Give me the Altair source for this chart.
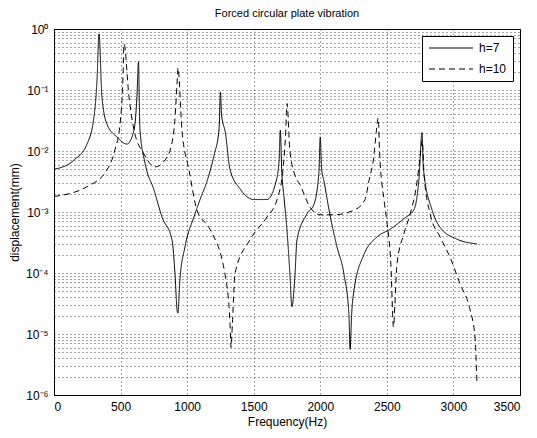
import altair as alt
import pandas as pd

# h=7 (solid) — frequency (Hz), displacement (mm)
f_h7 = [0, 150, 248, 300, 323, 338, 360, 398, 473, 548, 601, 623, 635, 640, 646, 684, 751, 811,
        886, 909, 924, 930, 946, 984, 1051, 1097, 1149, 1202, 1240, 1250, 1258, 1287, 1322, 1397,
        1502, 1600, 1660, 1690, 1700, 1710, 1727, 1750, 1772, 1787, 1810, 1825, 1900, 1953, 1990,
        2000, 2010, 2028, 2065, 2125, 2178, 2215, 2224, 2235, 2253, 2328, 2426, 2524, 2629, 2704,
        2741, 2764, 2775, 2840, 2900, 3025, 3177]
y_h7 = [5.0e-3, 7.1e-3, 1.3e-2, 3.6e-2, 1.45e-1, 8.3e-1, 7.8e-2, 2.75e-2, 1.7e-2, 1.3e-2, 2.2e-2,
        7.8e-2, 2.9e-1, 8.0e-2, 2.2e-2, 6.3e-3, 2.3e-3, 8.3e-4, 3.5e-4, 9.5e-5, 2.5e-5, 2.2e-5,
        7.8e-5, 2.7e-4, 8.3e-4, 1.6e-3, 3.2e-3, 8.5e-3, 2.3e-2, 9.3e-2, 4.0e-2, 2.0e-2, 5.0e-3,
        2.4e-3, 1.6e-3, 1.6e-3, 2.75e-3, 6.6e-3, 2.2e-2, 5.0e-3, 1.8e-3, 5.0e-4, 9.5e-5, 2.8e-5,
        9.5e-5, 3.5e-4, 9.3e-4, 1.35e-3, 4.6e-3, 1.7e-2, 5.0e-3, 3.2e-3, 1.1e-3, 2.7e-4, 9.5e-5,
        2.1e-5, 5.6e-6, 2.0e-5, 5.2e-5, 2.0e-4, 3.9e-4, 5.2e-4, 7.8e-4, 1.1e-3, 3.5e-3, 2.0e-2,
        5.0e-3, 1.07e-3, 5.6e-4, 3.6e-4, 3.0e-4]

# h=10 (dashed)
f_h10 = [0, 248, 398, 458, 496, 518, 526, 563, 601, 676, 759, 849, 901, 924, 931, 961, 1014,
         1074, 1172, 1284, 1322, 1330, 1340, 1360, 1472, 1600, 1675, 1720, 1740, 1750, 1772, 1810,
         1848, 1923, 2000, 2100, 2253, 2336, 2365, 2403, 2420, 2435, 2445, 2480, 2500, 2530, 2550,
         2560, 2576, 2628, 2675, 2720, 2755, 2765, 2780, 2825, 2900, 2975, 3050, 3125, 3162, 3177]
y_h10 = [1.8e-3, 2.6e-3, 4.9e-3, 1.05e-2, 2.75e-2, 1.6e-1, 5.7e-1, 7.8e-2, 2.2e-2, 8.9e-3, 5.5e-3,
         7.9e-3, 2.2e-2, 1.26e-1, 2.3e-1, 2.2e-2, 4.9e-3, 1.07e-3, 5.2e-4, 9.6e-5, 1.5e-5, 6.0e-6,
         1.5e-5, 1.0e-4, 3.5e-4, 8.3e-4, 1.6e-3, 5.0e-3, 2.0e-2, 6.0e-2, 1.0e-2, 4.0e-3, 2.8e-3,
         1.2e-3, 9.0e-4, 9.0e-4, 1.07e-3, 1.6e-3, 3.2e-3, 8.5e-3, 2.0e-2, 3.5e-2, 1.0e-2, 1.5e-3,
         6.9e-4, 1.4e-4, 1.3e-5, 3.0e-5, 1.4e-4, 4.4e-4, 9.3e-4, 2.5e-3, 1.0e-2, 1.5e-2, 4.0e-3,
         9.3e-4, 3.9e-4, 1.8e-4, 6.6e-5, 2.5e-5, 8.9e-6, 1.5e-6]

series_names = ["h=7", "h=10"]
x_ticks = [0, 500, 1000, 1500, 2000, 2500, 3000, 3500]
y_ticks = [m * 10.0 ** k for k in range(-6, 0) for m in range(1, 10)] + [1.0]

df = pd.concat([
    pd.DataFrame({"f": f_h7, "d": y_h7, "s": series_names[0], "o": range(len(f_h7))}),
    pd.DataFrame({"f": f_h10, "d": y_h10, "s": series_names[1], "o": range(len(f_h10))}),
])

FONT = "Liberation Sans"
sup_expr = ("abs(log(datum.value)/LN10 - round(log(datum.value)/LN10)) < 0.001 ? "
            "('10' + ['\u2070','\u207b\u00b9','\u207b\u00b2','\u207b\u00b3','\u207b\u2074','\u207b\u2075','\u207b\u2076']"
            "[-round(log(datum.value)/LN10)]) : ''")

chart = alt.Chart(df).mark_line(clip=True, color="black", strokeWidth=1,
                                interpolate="monotone").encode(
    x=alt.X("f:Q", title="Frequency(Hz)",
            scale=alt.Scale(domain=[0, 3500], nice=False),
            axis=alt.Axis(values=x_ticks, format="d", ticks=False, labelPadding=6,
                          grid=True, gridDash=[1, 3], gridColor="#000", gridOpacity=0.7)),
    y=alt.Y("d:Q", title="displacement(mm)",
            scale=alt.Scale(type="log", domain=[1e-6, 1], nice=False),
            axis=alt.Axis(values=y_ticks, labelExpr=sup_expr, ticks=False, labelPadding=6,
                          grid=True, gridDash=[1, 3], gridColor="#000", gridOpacity=0.7)),
    strokeDash=alt.StrokeDash("s:N", title=None,
                              scale=alt.Scale(domain=series_names, range=[[1, 0], [6, 4]]),
                              legend=alt.Legend(orient="top-right", symbolType="M-4,0H4",
                                                symbolSize=121, symbolStrokeWidth=1,
                                                symbolStrokeColor="black",
                                                symbolOffset=17, labelOffset=22,
                                                strokeColor="black", fillColor="white",
                                                padding=6, offset=7, rowPadding=9,
                                                labelFontSize=12, labelFont=FONT,
                                                cornerRadius=0)),
    order="o:Q",
).properties(
    width=466, height=366,
    padding={"left": 0, "top": 0, "right": 5, "bottom": 5},
    title=alt.Title("Forced circular plate vibration", fontSize=11, fontWeight="normal", font=FONT),
).configure_axis(
    labelFont=FONT, titleFont=FONT, labelFontSize=12, titleFontSize=12,
    titleFontWeight="normal", labelColor="black", titleColor="black",
    domainColor="black",
).configure_view(stroke="black", strokeWidth=1)

chart.save("out.html", embed_options={"renderer": "svg", "actions": False})
